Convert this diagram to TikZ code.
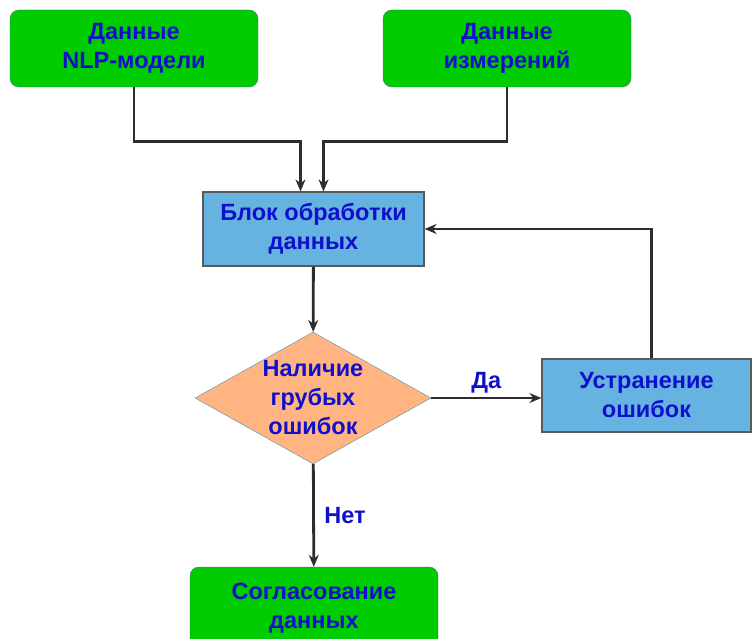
\documentclass[tikz,border=0pt]{standalone}
\usepackage{fontspec}
\setmainfont{Liberation Sans}
\setsansfont{Liberation Sans}
\usetikzlibrary{arrows.meta, positioning, shapes.geometric}

\definecolor{datagreen}{RGB}{0,204,0}
\definecolor{procblue}{RGB}{102,178,224}
\definecolor{decorange}{RGB}{255,180,130}
\definecolor{labelblue}{RGB}{16,16,204}
\definecolor{lineblack}{RGB}{45,45,45}

\begin{document}
\begin{tikzpicture}[
    x=1pt, y=-1pt,
    >={Stealth[length=12pt, width=10pt]}, font=\sffamily\bfseries\fontsize{23.5}{29}\selectfont,
    data/.style={rectangle, rounded corners=9pt, draw=procblue!60!black, fill=datagreen, thin, minimum width=248pt, minimum height=77pt, align=center, text=labelblue, inner sep=0},
    proc/.style={rectangle, draw=black!65, fill=procblue, line width=1.2pt, minimum width=221pt, minimum height=74pt, align=center, text=labelblue, inner sep=0},
    decision/.style={diamond, draw=procblue!80!black, fill=decorange, thin, aspect=1.75, inner sep=0, minimum width=236pt, minimum height=129pt, align=center, text=labelblue},
    flow/.style={line width=2.8pt, draw=lineblack, ->},
    branch/.style={text=labelblue}
]
    \useasboundingbox (0,0) rectangle (752,639);

    % =========================================================
    % INPUT DATA
    % =========================================================
    \node[data] (nlp) at (134, 48.5) {Данные\\NLP-модели};
    \node[data] (meas) at (507, 48.5) {Данные\\измерений};

    % =========================================================
    % PROCESSING LOOP
    % =========================================================
    \node[proc] (block) at (313.5, 229) {Блок обработки\\данных};
    \node[decision] (check) at (313, 398) {Наличие\\грубых\\ошибок};
    \node[proc, minimum width=209pt, minimum height=73pt] (fix) at (646.5, 395.5) {Устранение\\ошибок};

    % Result
    \node[data, minimum height=82pt] (agree) at (314, 608) {Согласование\\данных};

    % Inputs into the processing block
    \draw[flow] (nlp.south) -- ++(0,54) -| ([xshift=-13pt]block.north);
    \draw[flow] (meas.south) -- ++(0,54) -| ([xshift=10pt]block.north);

    % Block to decision
    \draw[flow] (block) -- (check);

    % Yes branch and feedback
    \draw[flow] (check.east) -- (check.east -| fix.west) node[midway, above, branch] {Да};
    \draw[flow] ([xshift=5pt]fix.north) |- (block.east);

    % No branch
    \draw[flow] (check) -- (agree) node[midway, right=6pt, branch] {Нет};

\end{tikzpicture}
\end{document}
